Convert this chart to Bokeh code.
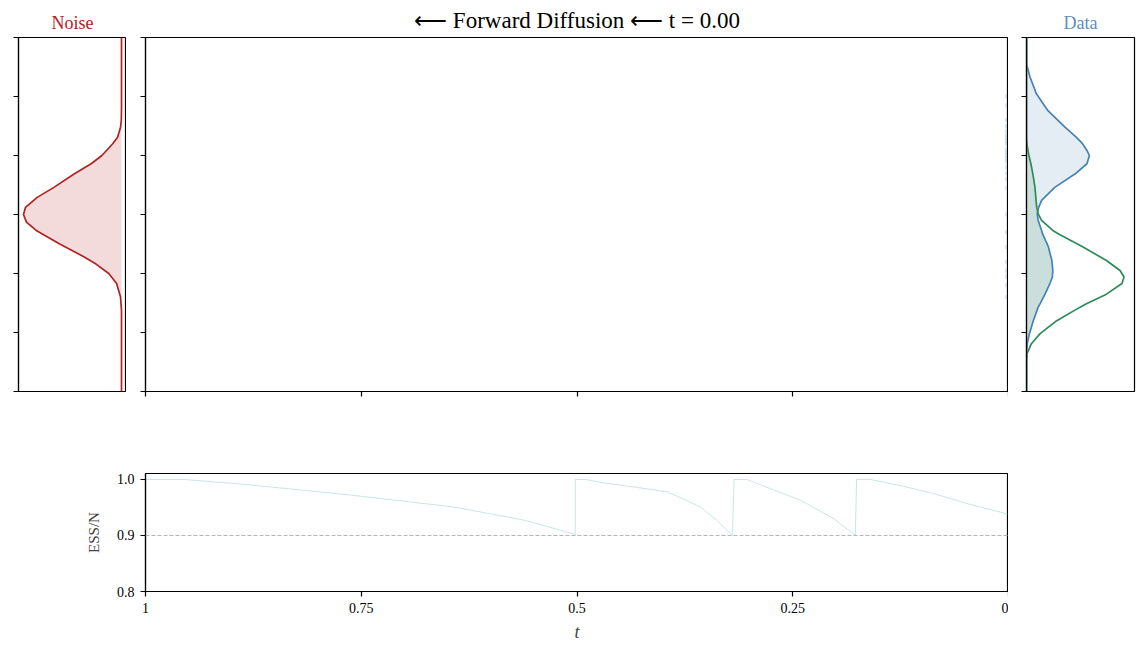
import numpy as np
from bokeh.plotting import figure
from bokeh.layouts import column, row
from bokeh.models import Range1d, FixedTicker, Span, CustomLabelingPolicy
from bokeh.embed import file_html
from bokeh.resources import INLINE

# ---------------- data ----------------
# Noise density (left panel): y position, normalised density
noise_y = [3.0, 1.8, 1.59, 1.48, 1.31, 1.2, 1.0, 0.86, 0.69, 0.46, 0.29, 0.12, 0.0,
           -0.13, -0.27, -0.5, -0.72, -0.84, -1.0, -1.17, -1.4, -1.63, -3.0]
noise_d = [0.0, 0.0, 0.002, 0.01, 0.04, 0.09, 0.2, 0.31, 0.48, 0.69, 0.86, 0.98, 1.0,
           0.97, 0.87, 0.63, 0.38, 0.26, 0.13, 0.05, 0.01, 0.0, 0.0]

# Data densities (right panel)
data_y = [3.0, 2.55, 2.33, 2.05, 1.76, 1.48, 1.31, 1.2, 1.085, 1.0, 0.86, 0.69, 0.46,
          0.24, 0.12, 0.01, -0.1, -0.27, -0.33, -0.55, -0.78, -0.95, -1.06, -1.17,
          -1.35, -1.51, -1.57, -1.8, -2.02, -2.19, -2.36, -2.5, -3.0]
data_blue = [0.0, 0.0, 0.036, 0.10, 0.22, 0.395, 0.51, 0.575, 0.62, 0.645, 0.62, 0.50, 0.29,
             0.155, 0.125, 0.11, 0.12, 0.155, 0.165, 0.225, 0.26, 0.27, 0.265, 0.24,
             0.19, 0.14, 0.12, 0.07, 0.03, 0.008, 0.0, 0.0, 0.0]
data_green = [0.0, 0.0, 0.0, 0.0, 0.0, 0.0, 0.0, 0.004, 0.015, 0.025, 0.045, 0.065, 0.087,
              0.098, 0.105, 0.12, 0.155, 0.27, 0.33, 0.58, 0.82, 0.96, 1.0, 0.98,
              0.82, 0.62, 0.55, 0.31, 0.14, 0.05, 0.005, 0.0, 0.0]

# Particles visible at t ~ 0 in the main panel
particle_y = [2.0, 1.85, 1.6, 1.5, 1.42, 1.35, 1.3, 1.25, 1.2, 1.1, 1.05, 1.0, 0.95,
              0.9, 0.8, 0.7, 0.6, 0.45, 0.0, -0.3, -0.55, -0.8, -0.95, -1.05, -1.2, -1.4]
particle_t = [0.003] * len(particle_y)

# ESS / N over reverse time
ess_t = [1.0, 0.955, 0.89, 0.767, 0.643, 0.56, 0.502, 0.502, 0.49, 0.473, 0.395, 0.357,
         0.338, 0.32, 0.318, 0.303, 0.28, 0.241, 0.2025, 0.1775, 0.176, 0.16, 0.125,
         0.087, 0.048, 0.0]
ess_v = [1.0, 1.0, 0.992, 0.973, 0.951, 0.927, 0.902, 1.0, 1.0, 0.995, 0.978, 0.951,
         0.927, 0.90, 1.0, 1.0, 0.986, 0.963, 0.930, 0.90, 1.0, 1.0, 0.989,
         0.975, 0.957, 0.938]
ess_threshold = 0.9

t_ticks = [1.0, 0.75, 0.5, 0.25, 0.0]
t_labels = ["1", "0.75", "0.5", "0.25", "0"]
y_ticks = [-3, -2, -1, 0, 1, 2, 3]
ess_ticks = [0.8, 0.9, 1.0]
ess_labels = ["0.8", "0.9", "1.0"]

# ---------------- styling helpers ----------------
FONT = "Liberation Serif"
RED = "#b22222"
BLUE = "#4682b4"
GREEN = "#2e8b57"


def base_fig(**kw):
    p = figure(output_backend="svg", toolbar_location=None, **kw)
    p.outline_line_color = "black"
    p.outline_line_width = 1.2
    p.outline_line_alpha = 1.0
    p.grid.visible = False
    p.background_fill_color = "white"
    p.border_fill_color = "white"
    return p


def style_axis(ax, labels=True):
    ax.major_tick_out = 5
    ax.major_tick_in = 0
    ax.minor_tick_out = 0
    ax.minor_tick_in = 0
    ax.axis_line_color = "black"
    ax.axis_line_width = 1.2
    ax.major_tick_line_width = 1.2
    ax.major_label_text_font = FONT
    ax.major_label_text_color = "black"
    if labels:
        ax.major_label_text_font_size = "14px"
        ax.major_label_standoff = 6
    else:
        # ticks only, no tick labels drawn
        ax.major_label_text_font_size = "2px"
        ax.major_label_standoff = 0
        ax.major_label_policy = CustomLabelingPolicy(code="return []")


def style_title(p, text, color, size, standoff):
    p.title.text = text
    p.title.text_font = FONT
    p.title.text_font_style = "normal"
    p.title.text_font_size = size
    p.title.text_color = color
    p.title.align = "center"
    p.title.standoff = standoff


FH = 354
TOP = 37

# ---------------- left: noise ----------------
left = base_fig(frame_width=108, frame_height=FH, min_border_left=18, min_border_right=0,
                min_border_top=TOP, min_border_bottom=10,
                x_range=Range1d(1.051, -0.051), y_range=Range1d(-3, 3), x_axis_location=None)
left.harea(y=noise_y, x1=noise_d, x2=[0.0] * len(noise_y), fill_color=RED, fill_alpha=0.16)
left.line(noise_d, noise_y, line_color=RED, line_width=1.7)
left.yaxis.ticker = FixedTicker(ticks=y_ticks)
style_axis(left.yaxis[0], labels=False)
style_title(left, "Noise", RED, "18px", 10)

# ---------------- main ----------------
main = base_fig(frame_width=863, frame_height=FH, min_border_left=19, min_border_right=0,
                min_border_top=TOP, min_border_bottom=10,
                x_range=Range1d(1, 0), y_range=Range1d(-3, 3))
main.scatter(particle_t, particle_y, size=4, marker="dash", angle=np.pi / 2,
             line_color=BLUE, line_alpha=0.35)
main.yaxis.ticker = FixedTicker(ticks=y_ticks)
main.xaxis.ticker = FixedTicker(ticks=t_ticks)
style_axis(main.yaxis[0], labels=False)
style_axis(main.xaxis[0], labels=False)
style_title(main, "\u27f5 Forward Diffusion \u27f5 t = 0.00", "black", "23px", 10)

# ---------------- right: data ----------------
right = base_fig(frame_width=108, frame_height=FH, min_border_left=18, min_border_right=3,
                 min_border_top=TOP, min_border_bottom=10,
                 x_range=Range1d(0, 1.108), y_range=Range1d(-3, 3), x_axis_location=None)
overlap = np.minimum(np.array(data_blue), np.array(data_green))
right.harea(y=data_y, x1=[0.0] * len(data_y), x2=data_blue, fill_color=BLUE, fill_alpha=0.14)
right.harea(y=data_y, x1=[0.0] * len(data_y), x2=overlap, fill_color=GREEN, fill_alpha=0.15)
right.line(data_blue, data_y, line_color=BLUE, line_width=1.7)
right.line(data_green, data_y, line_color=GREEN, line_width=1.7)
right.yaxis.ticker = FixedTicker(ticks=y_ticks)
style_axis(right.yaxis[0], labels=False)
style_title(right, "Data", "#5b8fc0", "18px", 10)

# ---------------- bottom: ESS ----------------
bottom = base_fig(frame_width=863, frame_height=118, min_border_left=145, min_border_right=0,
                  min_border_top=72, min_border_bottom=58,
                  x_range=Range1d(1, 0), y_range=Range1d(0.8, 1.0107))
bottom.add_layout(Span(location=ess_threshold, dimension="width", line_color="#b5b5b5",
                       line_width=1, line_dash="4 2"))
bottom.line(ess_t, ess_v, line_color="#6fb3b3", line_alpha=0.4, line_width=0.9)
bottom.xaxis.ticker = FixedTicker(ticks=t_ticks)
bottom.xaxis.major_label_overrides = dict(zip(t_ticks, t_labels))
bottom.yaxis.ticker = FixedTicker(ticks=ess_ticks)
bottom.yaxis.major_label_overrides = dict(zip(ess_ticks, ess_labels))
style_axis(bottom.xaxis[0])
style_axis(bottom.yaxis[0])
bottom.xaxis.axis_label = "t"
bottom.xaxis.axis_label_text_font = FONT
bottom.xaxis.axis_label_text_font_style = "italic"
bottom.xaxis.axis_label_text_font_size = "18px"
bottom.xaxis.axis_label_standoff = 6
bottom.yaxis.axis_label = "ESS/N"
bottom.yaxis.axis_label_text_font = FONT
bottom.yaxis.axis_label_text_font_style = "normal"
bottom.yaxis.axis_label_text_font_size = "15px"
bottom.yaxis.axis_label_standoff = 12

layout = column(row(left, main, right), bottom)
open("out.html", "w").write(file_html(layout, INLINE))
